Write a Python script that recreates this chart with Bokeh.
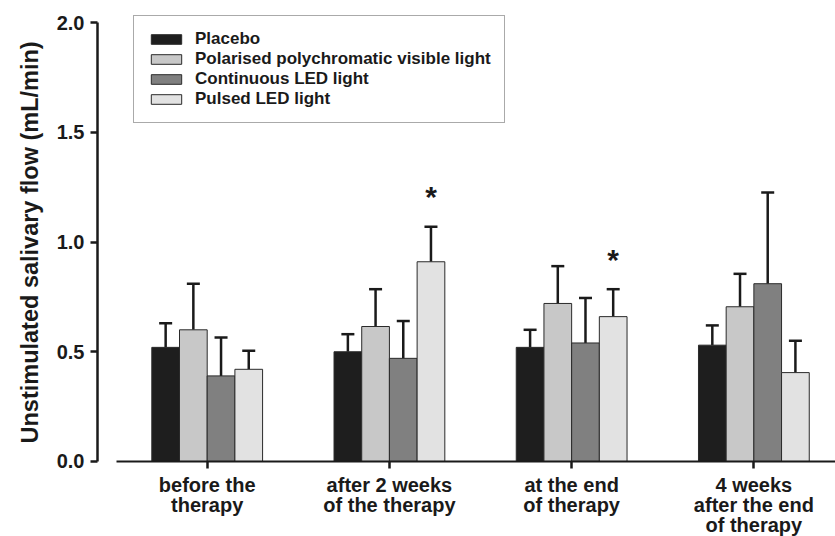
from bokeh.plotting import figure
from bokeh.models import (ColumnDataSource, Whisker, TeeHead, Legend, LegendItem,
                          FixedTicker, Range1d, Title)
from bokeh.core.properties import value
from bokeh.embed import file_html
from bokeh.resources import INLINE

# ---- data ----
groups = ["before the\ntherapy", "after 2 weeks\nof the therapy",
          "at the end\nof therapy", "4 weeks\nafter the end\nof therapy"]
series = ["Placebo", "Polarised polychromatic visible light",
          "Continuous LED light", "Pulsed LED light"]
placebo = [0.52, 0.50, 0.52, 0.53]
placebo_sd = [0.11, 0.08, 0.08, 0.09]
polarised = [0.60, 0.615, 0.72, 0.705]
polarised_sd = [0.21, 0.17, 0.17, 0.15]
continuous = [0.39, 0.47, 0.54, 0.81]
continuous_sd = [0.175, 0.17, 0.205, 0.415]
pulsed = [0.42, 0.91, 0.66, 0.405]
pulsed_sd = [0.085, 0.16, 0.125, 0.145]
significant = [False, True, True, False]   # asterisk over Pulsed LED light
y_ticks = [0.0, 0.5, 1.0, 1.5, 2.0]
y_label = "Unstimulated salivary flow (mL/min)"

colors = ["#1e1e1e", "#c8c8c8", "#808080", "#e2e2e2"]
FONT = "Liberation Sans"
INK = "#1a1a1a"

X_START, X_END = 0.398, 4.448
p = figure(width=835, height=536, output_backend="svg", toolbar_location=None,
           x_range=Range1d(X_START, X_END), y_range=Range1d(-0.3417, 2.0547),
           min_border_left=97, min_border_right=0, min_border_top=10,
           min_border_bottom=0)
p.outline_line_color = None
p.grid.grid_line_color = None
p.background_fill_color = "white"

xs = list(range(1, len(groups) + 1))
bw = 0.152
offsets = [-1.5 * bw, -0.5 * bw, 0.5 * bw, 1.5 * bw]
means = [placebo, polarised, continuous, pulsed]
sds = [placebo_sd, polarised_sd, continuous_sd, pulsed_sd]

renderers = []
for k in range(4):
    src = ColumnDataSource(dict(
        x=[x + offsets[k] for x in xs],
        top=means[k],
        upper=[m + s for m, s in zip(means[k], sds[k])],
    ))
    r = p.vbar(x="x", top="top", bottom=0, width=bw, source=src,
               fill_color=colors[k], line_color="#2a2a2a", line_width=1)
    renderers.append(r)
    w = Whisker(source=src, base="x", upper="upper", lower="top",
                dimension="height", line_color=INK, line_width=2.5,
                upper_head=TeeHead(size=13, line_width=2.5, line_color=INK),
                lower_head=None)
    p.add_layout(w)

# asterisks
sx = [xs[i] + offsets[3] for i in range(4) if significant[i]]
sy = [pulsed[i] + pulsed_sd[i] for i in range(4) if significant[i]]
p.text(x=sx, y=sy, text=["*"] * len(sx), text_font=value(FONT),
       text_font_style="bold", text_font_size="30px", text_align="center",
       text_baseline="middle", y_offset=-30, text_color=INK)

# y axis (line limited to 0..2)
p.yaxis.bounds = (y_ticks[0], y_ticks[-1])
p.yaxis.ticker = FixedTicker(ticks=y_ticks)
p.yaxis.major_label_overrides = {t: f"{t:.1f}" for t in y_ticks}
p.yaxis.major_label_text_font = FONT
p.yaxis.major_label_text_font_style = "bold"
p.yaxis.major_label_text_font_size = "20px"
p.yaxis.major_label_text_color = INK
p.yaxis.major_label_standoff = 6
p.yaxis.axis_line_width = 2.5
p.yaxis.axis_line_color = INK
p.yaxis.major_tick_line_width = 2.5
p.yaxis.major_tick_line_color = INK
p.yaxis.major_tick_out = 7
p.yaxis.major_tick_in = 0
p.yaxis.minor_tick_line_color = None

# y axis title, placed beside the axis and aligned with the 0..2 span
ytitle = Title(text=y_label, align="left", offset=93, standoff=22,
               text_font=FONT, text_font_style="bold", text_font_size="23.5px",
               text_color=INK)
p.add_layout(ytitle, "left")

# x axis placed at y = 0, line starting away from the y axis
p.xaxis.fixed_location = 0
p.xaxis.bounds = (0.5, X_END)
p.xaxis.ticker = FixedTicker(ticks=xs)
p.xaxis.major_label_overrides = {x: g for x, g in zip(xs, groups)}
p.xaxis.axis_line_color = INK
p.xaxis.axis_line_width = 2
p.xaxis.major_label_text_font = FONT
p.xaxis.major_label_text_font_style = "bold"
p.xaxis.major_label_text_font_size = "20px"
p.xaxis.major_label_text_color = INK
p.xaxis.major_label_text_line_height = 0.9
p.xaxis.major_label_standoff = 6
p.xaxis.major_tick_line_width = 2.5
p.xaxis.major_tick_line_color = INK
p.xaxis.major_tick_out = 7
p.xaxis.major_tick_in = 0
p.xaxis.minor_tick_line_color = None

legend = Legend(items=[LegendItem(label=s, renderers=[r]) for s, r in zip(series, renderers)],
                location=(36, 413))
legend.label_text_font = FONT
legend.label_text_font_style = "bold"
legend.label_text_font_size = "17px"
legend.label_text_line_height = 1.0
legend.label_text_color = INK
legend.glyph_width = 38
legend.glyph_height = 12
legend.label_height = 19
legend.spacing = 0
legend.padding = 13
legend.margin = 0
legend.label_standoff = 10
legend.border_line_color = "#555555"
legend.border_line_width = 1.2
legend.background_fill_alpha = 1.0
p.add_layout(legend, "center")

open("out.html", "w").write(file_html(p, INLINE))
